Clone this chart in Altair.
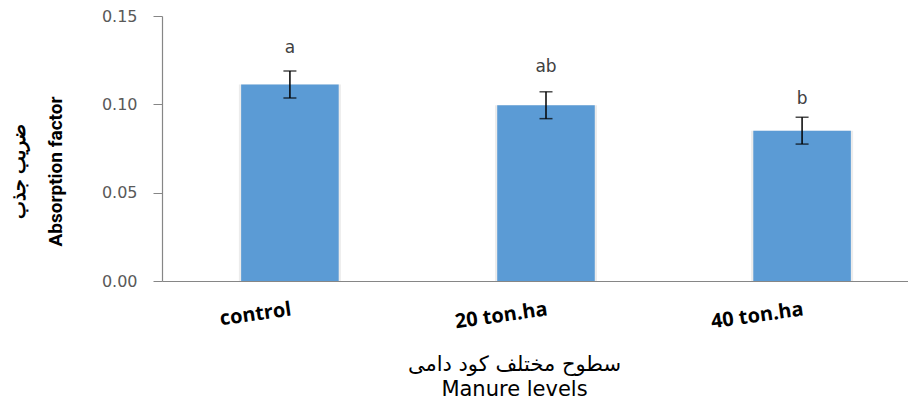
import altair as alt
import pandas as pd

levels = ["control", "20 ton.ha", "40 ton.ha"]
means = [0.1112, 0.0995, 0.0851]
se = [0.0076, 0.0076, 0.0076]
letters = ["a", "ab", "b"]
letter_y = [0.1318, 0.1212, 0.1030]

df = pd.DataFrame({"level": levels, "mean": means, "se": se,
                   "letter": letters, "ly": letter_y})
df["lo"] = df["mean"] - df["se"]
df["hi"] = df["mean"] + df["se"]

AX = "#868686"
x_axis = alt.Axis(
    title=["سطوح مختلف کود دامی", "Manure levels"],
    titleFont="DejaVu Sans", titleFontSize=21, titleFontWeight="normal",
    titleColor="#000000", titleLineHeight=25, titleBaseline="top",
    titleX=352, titleY=72, titleAlign="center", titleAnchor="start",
    labelAngle=352, labelAlign="right", labelBaseline="top",
    labelFont="Open Sans", labelFontWeight="bold", labelFontSize=20,
    labelColor="#000000", labelPadding=18, ticks=False,
    domainColor=AX, domainWidth=1.2, grid=False,
)
x = alt.X("level:N", sort=levels,
          scale=alt.Scale(range=[0, 768], paddingInner=0.619, paddingOuter=0.309),
          axis=x_axis)

y_axis = alt.Axis(
    title=["ضریب جذب", "Absorption factor"],
    titleFont="Roboto", titleFontSize=19, titleFontWeight="bold",
    titleColor="#000000", titleLineHeight=37, titleBaseline="top",
    titleAngle=270, titleX=-153, titleY=155, titleAlign="center",
    values=[0, 0.05, 0.10, 0.15], format=".2f",
    labelFont="DejaVu Sans", labelFontSize=16, labelColor="#595959",
    labelPadding=16, tickSize=9, tickColor=AX, domainColor=AX,
    domainWidth=1.2, grid=False,
)
yscale = alt.Scale(domain=[0, 0.15], nice=False, zero=True)

base = alt.Chart(df)

shadow = base.mark_bar(color="#7f7f7f", opacity=0.15, size=102).encode(
    x=x, y=alt.Y("mean:Q", scale=yscale, axis=y_axis))
bars = base.mark_bar(color="#5B9BD5").encode(
    x=x, y=alt.Y("mean:Q", scale=yscale, axis=y_axis))
rule = base.mark_rule(color="#000000", strokeWidth=1.5).encode(
    x=x, y=alt.Y("lo:Q", scale=yscale, axis=y_axis), y2="hi:Q")
cap_hi = base.mark_tick(color="#000000", thickness=1.5, size=13).encode(
    x=x, y=alt.Y("hi:Q", scale=yscale, axis=y_axis))
cap_lo = base.mark_tick(color="#000000", thickness=1.5, size=13).encode(
    x=x, y=alt.Y("lo:Q", scale=yscale, axis=y_axis))
txt = base.mark_text(font="DejaVu Sans", fontSize=17, color="#404040",
                     baseline="middle").encode(
    x=x, y=alt.Y("ly:Q", scale=yscale, axis=y_axis), text="letter:N")

chart = alt.layer(shadow, bars, rule, cap_hi, cap_lo, txt).properties(
    width=746, height=265,
    autosize=alt.AutoSizeParams(type="none"),
    padding={"left": 154, "top": 8, "right": 0, "bottom": 121},
    background="white",
).configure_view(stroke=None)

chart.save("out.html", embed_options={"renderer": "svg", "actions": False})
